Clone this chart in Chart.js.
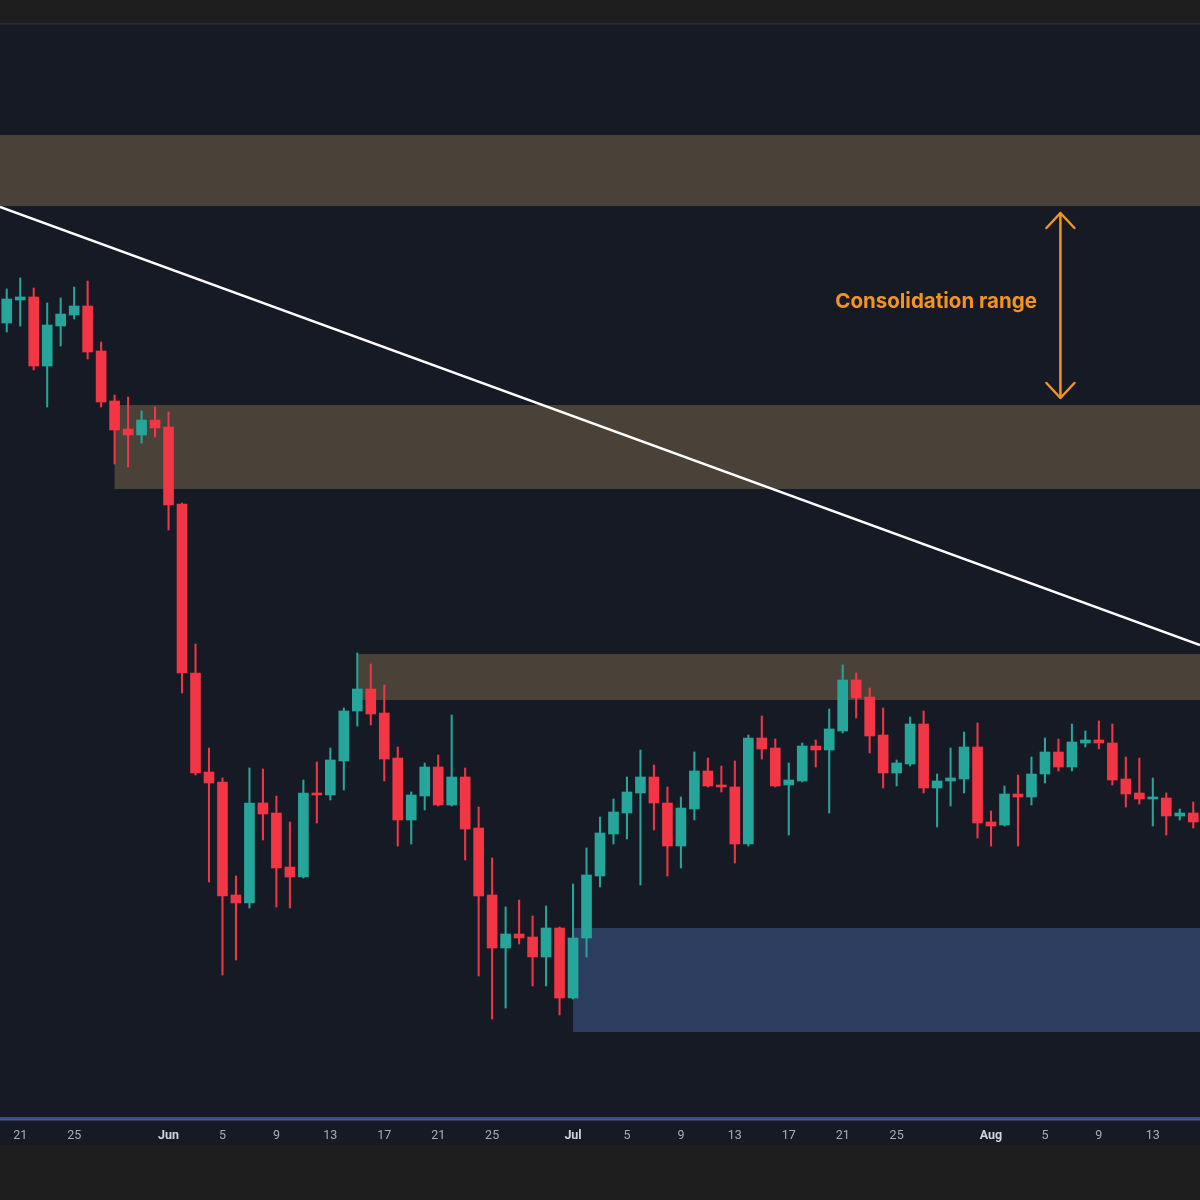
<!DOCTYPE html>
<html>
<head>
<meta charset="utf-8">
<script src="https://cdn.jsdelivr.net/npm/chart.js@4.4.1/dist/chart.umd.min.js"></script>
<style>
  html, body { margin: 0; padding: 0; background: #1e1e1e; }
  #wrap { width: 1200px; height: 1200px; position: relative; }
</style>
</head>
<body>
<div id="wrap"><canvas id="priceChart"></canvas></div>
<script>
// daily candles, May 20 - Aug 16
const months = [['May', 20, 31], ['Jun', 1, 30], ['Jul', 1, 31], ['Aug', 1, 16]];
const dates = [];
months.forEach(([m, first, last]) => {
  for (let d = first; d <= last; d++) dates.push(m + ' ' + d);
});

const opens  = [877,900,903,834,874,885,894,849,799,771,765,780,773,696,527,428,418,305,297,397,387,333,323,407,405,439,489,511,487,442,380,404,433,395,423,372,305,252,266,263,243,272,202,262,324,366,387,407,423,397,354,391,429,415,413,356,462,452,415,419,454,450,469,520,503,465,427,436,476,412,419,421,453,378,375,406,403,426,448,433,457,460,457,421,407,401,402,384,387];
const highs  = [911,922,912,897,902,913,919,858,805,803,789,793,788,697,556,452,422,324,432,431,404,378,420,438,452,492,547,536,515,453,408,437,445,485,432,393,342,293,300,284,294,273,316,352,383,401,423,450,435,413,403,448,442,434,439,465,484,461,437,457,460,491,535,527,512,492,440,483,489,426,452,468,477,389,414,425,443,462,461,476,469,479,476,443,442,422,407,391,398];
const lows   = [868,874,830,793,854,881,841,793,736,733,757,763,670,507,425,318,225,240,292,360,293,292,322,377,400,410,474,475,419,354,356,390,394,394,340,224,181,192,256,214,214,185,201,243,313,356,361,315,370,324,332,380,413,408,337,354,441,413,365,418,433,387,467,482,447,412,414,434,407,373,394,407,362,354,374,354,395,417,429,429,453,451,415,393,396,374,365,380,372];
const closes = [901,903,834,875,886,894,848,798,770,765,780,772,695,527,427,417,304,297,397,386,332,323,407,405,440,489,511,486,441,380,405,433,395,423,371,304,252,266,262,243,272,202,262,325,367,388,408,423,397,354,392,429,414,413,356,462,451,414,420,454,450,471,520,502,464,427,437,476,412,419,422,453,377,374,406,403,426,448,433,458,460,457,420,406,401,402,384,387,378];

const tickLabels = {
  'May 21': '21', 'May 25': '25', 'Jun 1': 'Jun', 'Jun 5': '5', 'Jun 9': '9',
  'Jun 13': '13', 'Jun 17': '17', 'Jun 21': '21', 'Jun 25': '25', 'Jul 1': 'Jul',
  'Jul 5': '5', 'Jul 9': '9', 'Jul 13': '13', 'Jul 17': '17', 'Jul 21': '21',
  'Jul 25': '25', 'Aug 1': 'Aug', 'Aug 5': '5', 'Aug 9': '9', 'Aug 13': '13'
};

// supply / demand zones
const zoneStart = ['May 20', 'May 28', 'Jun 15', 'Jul 1'];
const zoneHigh  = [1065, 795, 546, 272];
const zoneLow   = [994, 711, 500, 168];

// descending trendline anchors
const trendDates  = ['May 20', 'Aug 16'];
const trendPrices = [990.5, 557.4];

const annotationText = 'Consolidation range';
const annotationDate = 'Aug 6';
const textDate = 'Jul 28';

const up = '#26a69a';
const down = '#f23645';
const candleColors = opens.map((o, i) => closes[i] >= o ? up : down);

const overlay = {
  id: 'overlay',
  beforeDraw(chart) {
    const { ctx, width, height, chartArea } = chart;
    ctx.save();
    ctx.fillStyle = '#1e1e1e';
    ctx.fillRect(0, 0, width, height);
    ctx.fillStyle = '#161a25';
    ctx.fillRect(0, chartArea.top - 1, width, chartArea.bottom + 28 - chartArea.top + 1);
    ctx.fillStyle = '#2a2d36';
    ctx.fillRect(0, chartArea.top - 2, width, 1.5);
    ctx.restore();
  },
  beforeDatasetsDraw(chart) {
    const { ctx, chartArea, scales, width } = chart;
    const x = scales.x, y = scales.y;
    ctx.save();
    zoneStart.forEach((d, i) => {
      const idx = dates.indexOf(d);
      const x0 = idx === 0 ? 0 : x.getPixelForValue(idx);
      const y0 = y.getPixelForValue(zoneHigh[i]);
      const y1 = y.getPixelForValue(zoneLow[i]);
      ctx.fillStyle = i === 3 ? '#2c3d60' : '#4a4239';
      ctx.fillRect(x0, y0, width - x0, y1 - y0);
    });
    ctx.restore();
  },
  afterDatasetsDraw(chart) {
    const { ctx, chartArea, scales, width } = chart;
    const x = scales.x, y = scales.y;
    ctx.save();
    // trendline extended to the edges
    const ax = x.getPixelForValue(dates.indexOf(trendDates[0]));
    const bx = x.getPixelForValue(dates.indexOf(trendDates[1]));
    const ay = y.getPixelForValue(trendPrices[0]);
    const by = y.getPixelForValue(trendPrices[1]);
    const k = (by - ay) / (bx - ax);
    ctx.beginPath();
    ctx.rect(0, chartArea.top, width, chartArea.height);
    ctx.clip();
    ctx.strokeStyle = '#ffffff';
    ctx.lineWidth = 2.5;
    ctx.beginPath();
    ctx.moveTo(0, ay + k * (0 - ax));
    ctx.lineTo(width, ay + k * (width - ax));
    ctx.stroke();

    // consolidation arrow between zone 1 and zone 2
    const orange = '#f39422';
    const arrowX = x.getPixelForValue(dates.indexOf(annotationDate)) + 2;
    const top = y.getPixelForValue(zoneLow[0]) + 7;
    const bottom = y.getPixelForValue(zoneHigh[1]) - 7;
    ctx.strokeStyle = orange;
    ctx.lineWidth = 2.5;
    ctx.lineCap = 'round';
    ctx.lineJoin = 'round';
    ctx.beginPath();
    ctx.moveTo(arrowX, top);
    ctx.lineTo(arrowX, bottom);
    ctx.moveTo(arrowX - 14, top + 15);
    ctx.lineTo(arrowX, top);
    ctx.lineTo(arrowX + 14, top + 15);
    ctx.moveTo(arrowX - 14, bottom - 15);
    ctx.lineTo(arrowX, bottom);
    ctx.lineTo(arrowX + 14, bottom - 15);
    ctx.stroke();

    ctx.fillStyle = orange;
    ctx.font = 'bold 20.5px Inter, "Noto Sans", sans-serif';
    ctx.textAlign = 'center';
    ctx.textBaseline = 'middle';
    ctx.fillText(annotationText, x.getPixelForValue(dates.indexOf(textDate)) - 1, (top + bottom) / 2 - 4);
    ctx.restore();
  },
  afterDraw(chart) {
    const { ctx, chartArea, width } = chart;
    ctx.save();
    ctx.fillStyle = '#3a4b8c';
    ctx.fillRect(0, chartArea.bottom, width, 2);
    ctx.fillStyle = '#4d5a7e';
    ctx.fillRect(0, chartArea.bottom + 2, width, 1.5);
    ctx.restore();
  }
};

const ctx = document.getElementById('priceChart').getContext('2d');
const priceChart = new Chart(ctx, {
  type: 'bar',
  data: {
    labels: dates,
    datasets: [
      {
        label: 'Wick',
        data: lows.map((l, i) => [l, highs[i]]),
        backgroundColor: candleColors,
        barThickness: 1.4,
        grouped: false,
        borderWidth: 0,
        order: 2
      },
      {
        label: 'Body',
        data: opens.map((o, i) => [o, closes[i]]),
        backgroundColor: candleColors,
        barThickness: 10,
        minBarLength: 2,
        grouped: false,
        borderWidth: 0,
        order: 1
      }
    ]
  },
  options: {
    responsive: true,
    maintainAspectRatio: false,
    animation: false,
    layout: { padding: { top: 25, bottom: 55, left: 0, right: 0 } },
    plugins: {
      legend: { display: false },
      tooltip: { enabled: false }
    },
    scales: {
      x: {
        offset: true,
        grid: { display: false },
        border: { display: false },
        afterFit: (scale) => { scale.height = 28; },
        ticks: {
          autoSkip: false,
          maxRotation: 0,
          padding: 3,
          callback: function (value) {
            return tickLabels[this.getLabelForValue(value)] || '';
          },
          color: (c) => isNaN(Number(c.tick.label)) ? '#d1d4dc' : '#a9acb5',
          font: (c) => ({
            family: 'Roboto, "Noto Sans", sans-serif',
            size: 12.5,
            weight: isNaN(Number(c.tick.label)) ? 'bold' : 'normal'
          })
        }
      },
      y: {
        display: false,
        min: 83,
        max: 1175
      }
    }
  },
  plugins: [overlay]
});
</script>
</body>
</html>
